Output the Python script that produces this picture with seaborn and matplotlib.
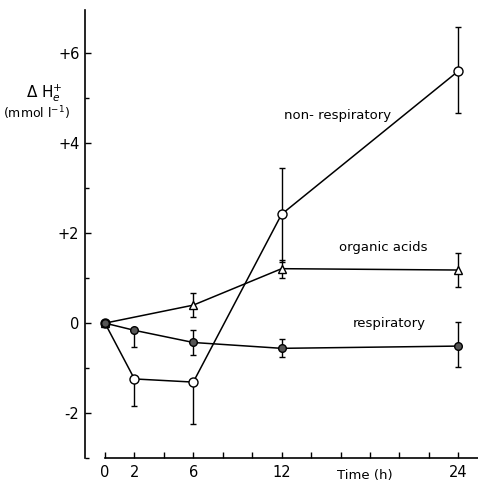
import numpy as np
import pandas as pd
import matplotlib
matplotlib.use("Agg")
import matplotlib.pyplot as plt
import seaborn as sns

# ---- data ----
times = [0, 2, 6, 12, 24]
nonresp = [0.0, -1.24, -1.31, 2.42, 5.6]
nonresp_lo = [0.0, -1.84, -2.24, 1.36, 4.67]
nonresp_hi = [0.0, -1.24, -1.31, 3.44, 6.58]

org_times = [0, 6, 12, 24]
organic = [0.0, 0.40, 1.21, 1.18]
organic_lo = [0.0, 0.13, 1.0, 0.81]
organic_hi = [0.0, 0.67, 1.40, 1.56]

resp = [0.0, -0.16, -0.43, -0.56, -0.51]
resp_lo = [0.0, -0.53, -0.71, -0.76, -0.97]
resp_hi = [0.0, -0.16, -0.16, -0.36, 0.03]

xticks = [0, 2, 4, 6, 8, 10, 12, 14, 16, 18, 20, 22, 24]
xlabels = ["0", "2", "", "6", "", "", "12", "", "", "", "", "", "24"]
yticks = [-2, 0, 2, 4, 6]
ylabels = ["-2", "0", "+2", "+4", "+6"]
yminor = [-3, -1, 1, 3, 5]

sns.set_style("ticks")
plt.rcParams["font.family"] = ["DejaVu Sans"]
plt.rcParams["text.color"] = "black"
plt.rcParams["xtick.color"] = "black"
plt.rcParams["ytick.color"] = "black"

fig = plt.figure(figsize=(4.78, 4.82), dpi=100)
ax = fig.add_axes([0, 0, 1, 1])
ax.set_xlim(-7.13, 25.34)
ax.set_ylim(-3.53, 7.18)

lw = 1.1

def draw(x, y, lo, hi, marker, face, ms):
    df = pd.DataFrame({"t": x, "v": y})
    y = np.array(y); lo = np.array(lo); hi = np.array(hi)
    ax.errorbar(x, y, yerr=[y - lo, hi - y], fmt="none", ecolor="black",
                elinewidth=1.0, capsize=2.4, capthick=1.0, zorder=2)
    sns.lineplot(data=df, x="t", y="v", ax=ax, color="black", lw=lw,
                 marker=marker, markersize=ms, markerfacecolor=face,
                 markeredgecolor="black", markeredgewidth=1.0, zorder=3)

draw(times, nonresp, nonresp_lo, nonresp_hi, "o", "white", 6.5)
draw(org_times, organic, organic_lo, organic_hi, "^", "white", 5.5)
draw(times, resp, resp_lo, resp_hi, "o", "#555555", 5.5)

for s in ["top", "right"]:
    ax.spines[s].set_visible(False)
ax.spines["left"].set_position(("data", -1.36))
ax.spines["bottom"].set_position(("data", -3.0))
ax.spines["left"].set_bounds(-3.0, 6.95)
ax.spines["bottom"].set_bounds(0, 25.34)
for s in ["left", "bottom"]:
    ax.spines[s].set_linewidth(1.2)
    ax.spines[s].set_color("black")

ax.set_xticks(xticks)
ax.set_xticklabels(xlabels)
ax.set_yticks(yticks)
ax.set_yticklabels(ylabels)
ax.set_yticks(yminor, minor=True)
ax.set_xticks([], minor=True)
ax.tick_params(axis="x", which="major", bottom=True, direction="in", length=4, width=1,
               pad=5, labelsize=10.5, colors="black")
ax.tick_params(axis="y", which="major", left=True, direction="in", length=4, width=1,
               pad=4, labelsize=10.5, colors="black")
ax.tick_params(axis="y", which="minor", left=True, direction="in", length=3, width=1,
               colors="black")
ax.set_xlabel("")
ax.set_ylabel("")

ax.text(17.66, -3.38, "Time (h)", ha="center", va="center", fontsize=9.5)
ax.text(-4.14, 5.11, r"Δ H$^{+}_{e}$", ha="center", va="center", fontsize=11)
ax.text(-4.62, 4.67, r"(mmol l$^{-1}$)", ha="center", va="center", fontsize=9)
ax.text(19.43, 4.62, "non- respiratory", ha="right", va="center", fontsize=9.5)
ax.text(21.94, 1.69, "organic acids", ha="right", va="center", fontsize=9.5)
ax.text(21.8, 0.0, "respiratory", ha="right", va="center", fontsize=9.5)

fig.savefig("out.png", dpi=100)
